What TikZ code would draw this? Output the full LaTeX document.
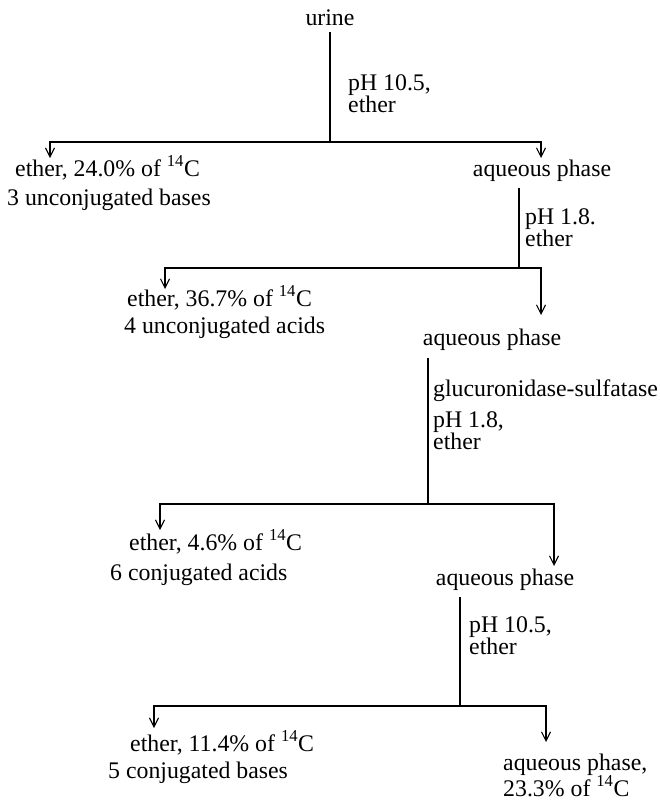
\documentclass[tikz,border=0pt]{standalone}
\usepackage{fontspec}
\setmainfont{Liberation Serif}
\usetikzlibrary{arrows.meta}
\newcommand\Cfourteen{\textsuperscript{14}C}
\tikzset{
  txt/.style={inner sep=0pt, anchor=base west, font=\fontsize{23.8}{26}\selectfont},
  ctxt/.style={txt, anchor=base},
  ln/.style={line width=1.1pt},
  arr/.style={line width=1.1pt, -{Straight Barb[length=9pt,width=9pt]}},
}
\begin{document}
\begin{tikzpicture}[x=1pt,y=-1pt]
\useasboundingbox (0,0) rectangle (660,803);
% texts
\node[ctxt] (urine) at (330,25) {urine};
\node[txt] (l1a) at (348,90) {pH 10.5,};
\node[txt] (l1b) at (348,112) {ether};
\node[txt] (e1a) at (15,176) {ether, 24.0\% of \Cfourteen};
\node[txt] (e1b) at (7,205) {3 unconjugated bases};
\node[ctxt] (aq1) at (542,176) {aqueous phase};
\node[txt] (l2a) at (525,224) {pH 1.8.};
\node[txt] (l2b) at (525,246) {ether};
\node[txt] (e2a) at (127,306) {ether, 36.7\% of \Cfourteen};
\node[txt] (e2b) at (124,333) {4 unconjugated acids};
\node[ctxt] (aq2) at (492,345) {aqueous phase};
\node[txt] (l3a) at (433,396) {glucuronidase-sulfatase};
\node[txt] (l3b) at (433,427) {pH 1.8,};
\node[txt] (l3c) at (433,449) {ether};
\node[txt] (e3a) at (129,550) {ether, 4.6\% of \Cfourteen};
\node[txt] (e3b) at (110,580) {6 conjugated acids};
\node[ctxt] (aq3) at (505,585) {aqueous phase};
\node[txt] (l4a) at (469,632) {pH 10.5,};
\node[txt] (l4b) at (469,654) {ether};
\node[txt] (e4a) at (130,751) {ether, 11.4\% of \Cfourteen};
\node[txt] (e4b) at (108,778) {5 conjugated bases};
\node[txt] (aq4a) at (503,770) {aqueous phase,};
\node[txt] (aq4b) at (503,796) {23.3\% of \Cfourteen};
% structure coordinates
\coordinate (s1) at (330,32);  \coordinate (j1) at (330,142);
\coordinate (t1L) at (50,158); \coordinate (t1R) at (541,158);
\coordinate (s2) at (519,188); \coordinate (j2) at (519,268);
\coordinate (t2L) at (165,289); \coordinate (t2R) at (541,315);
\coordinate (s3) at (428,358); \coordinate (j3) at (428,504);
\coordinate (t3L) at (160,530); \coordinate (t3R) at (554,566);
\coordinate (s4) at (460,597); \coordinate (j4) at (460,706);
\coordinate (t4L) at (154,728); \coordinate (t4R) at (546,742);
% connectors
\draw[ln] (s1) -- (j1);
\draw[arr] (j1) -| (t1L);
\draw[arr] (j1) -| (t1R);
\draw[ln] (s2) -- (j2);
\draw[arr] (j2) -| (t2L);
\draw[arr] (j2) -| (t2R);
\draw[ln] (s3) -- (j3);
\draw[arr] (j3) -| (t3L);
\draw[arr] (j3) -| (t3R);
\draw[ln] (s4) -- (j4);
\draw[arr] (j4) -| (t4L);
\draw[arr] (j4) -| (t4R);
\end{tikzpicture}
\end{document}
